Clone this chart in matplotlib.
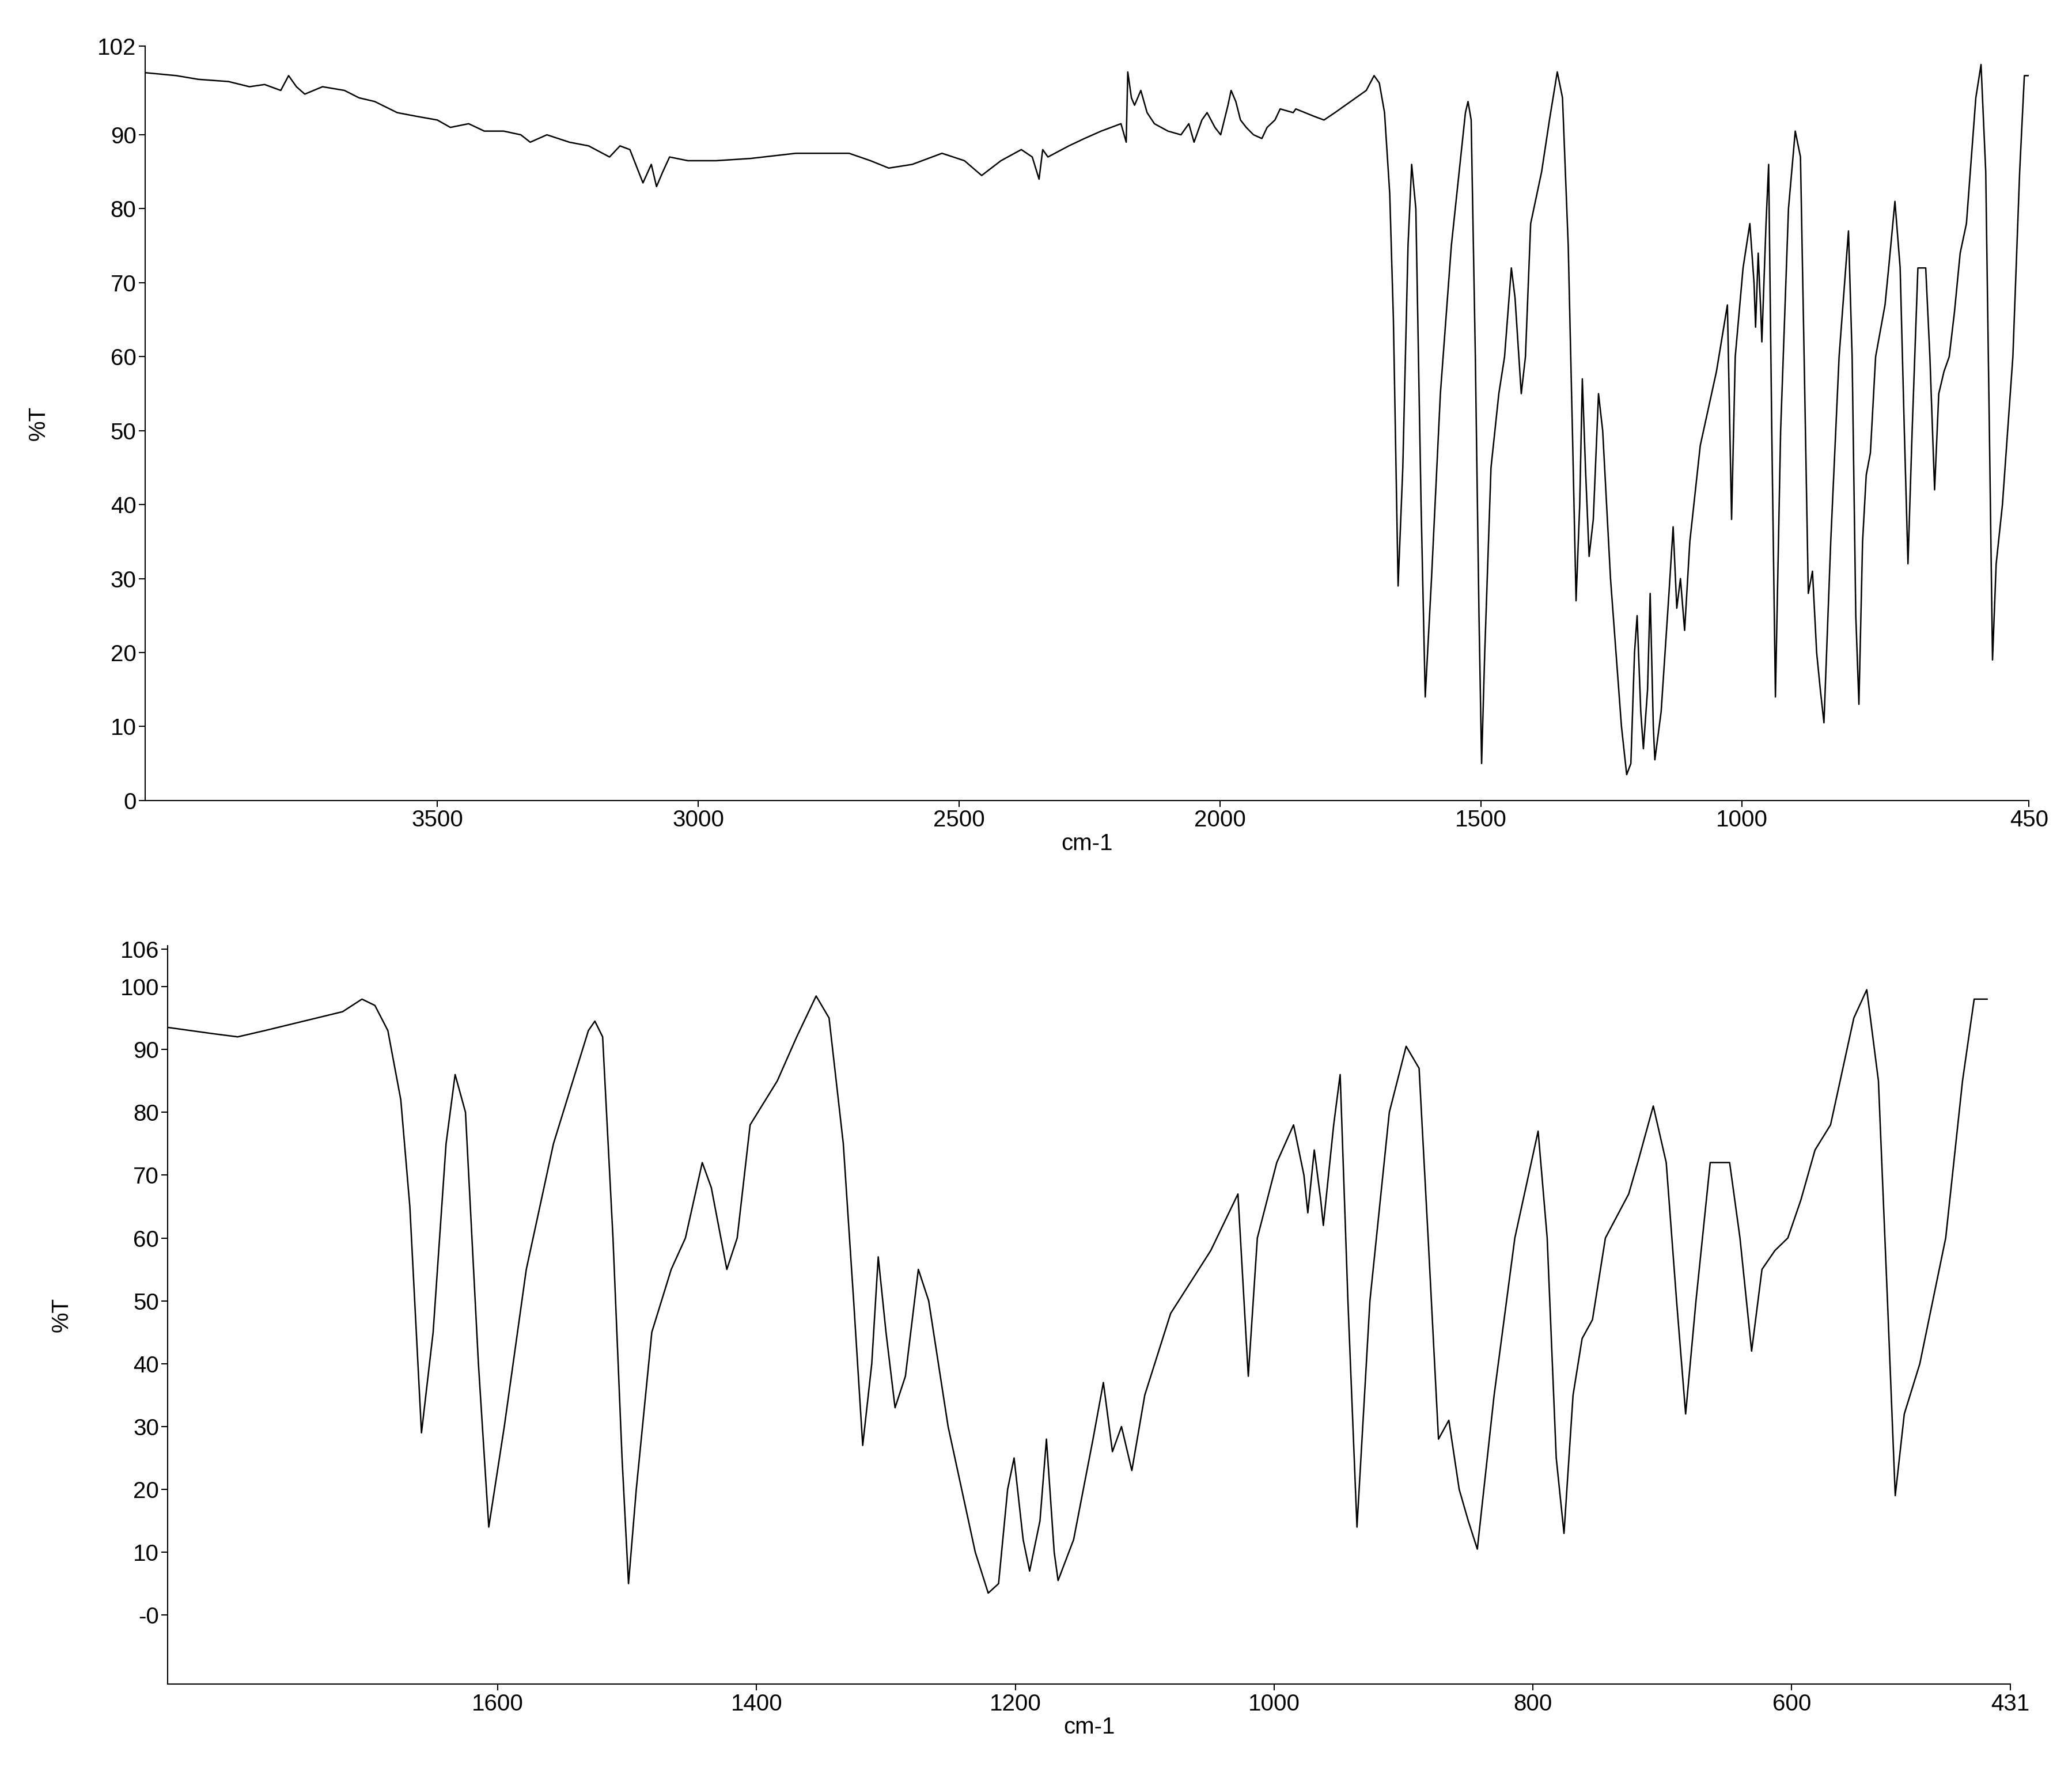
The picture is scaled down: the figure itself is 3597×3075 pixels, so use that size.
import matplotlib
matplotlib.use("Agg")
import matplotlib.pyplot as plt

plt.rcParams['font.family'] = ['Liberation Sans', 'DejaVu Sans']

# High-wavenumber region (cm-1, %T)
wn_high = [4060, 4000, 3958, 3900, 3860, 3831, 3800, 3785, 3770, 3754, 3720, 3678, 3650, 3620, 3577, 3540,
           3500, 3475, 3440, 3410, 3373, 3340, 3322, 3290, 3247, 3210, 3170, 3150, 3131, 3106, 3090, 3080,
           3068, 3055, 3020, 2966, 2900, 2813, 2760, 2711, 2670, 2635, 2590, 2533, 2490, 2457, 2420, 2381,
           2360, 2347, 2340, 2330, 2290, 2260, 2228, 2190, 2180, 2177, 2170, 2164, 2152, 2140, 2126, 2100,
           2075, 2060, 2050, 2035, 2025, 2010, 1999, 1985, 1979, 1970, 1961, 1950, 1936, 1920, 1910, 1895,
           1885, 1860]
t_high = [98.4, 98.0, 97.5, 97.2, 96.5, 96.8, 96.0, 98.0, 96.5, 95.5, 96.5, 96.0, 95.0, 94.5, 93.0, 92.5,
          92.0, 91.0, 91.5, 90.5, 90.5, 90.0, 89.0, 90.0, 89.0, 88.5, 87.0, 88.5, 88.0, 83.5, 86.0, 83.0,
          85.0, 87.0, 86.5, 86.5, 86.8, 87.5, 87.5, 87.5, 86.5, 85.5, 86.0, 87.5, 86.5, 84.5, 86.5, 88.0,
          87.0, 84.0, 88.0, 87.0, 88.5, 89.5, 90.5, 91.5, 89.0, 98.5, 95.0, 94.0, 96.0, 93.0, 91.5, 90.5,
          90.0, 91.5, 89.0, 92.0, 93.0, 91.0, 90.0, 94.0, 96.0, 94.5, 92.0, 91.0, 90.0, 89.5, 91.0, 92.0,
          93.5, 93.0]

# Fingerprint region (cm-1, %T)
wn_low = [1855, 1820, 1801, 1780, 1750, 1720, 1705, 1695, 1685, 1675, 1668, 1659, 1650, 1640, 1633, 1625,
          1615, 1607, 1595, 1578, 1557, 1542, 1530, 1525, 1519, 1511, 1504, 1499, 1493, 1481, 1466, 1455,
          1442, 1435, 1423, 1415, 1405, 1384, 1369, 1354, 1344, 1333, 1325, 1318, 1311, 1306, 1300, 1293,
          1285, 1275, 1267, 1252, 1231, 1221, 1213, 1206, 1201, 1194, 1189, 1181, 1176, 1170, 1167, 1155,
          1140, 1132, 1125, 1118, 1110, 1100, 1080, 1049, 1028, 1020, 1013, 998, 985, 977, 974, 969,
          964, 962, 954, 949, 943, 936, 926, 911, 898, 888, 881, 873, 865, 857, 850, 843,
          830, 814, 796, 789, 782, 776, 769, 762, 754, 744, 726, 719, 707, 697, 689, 682,
          674, 663, 648, 640, 631, 623, 613, 603, 593, 582, 570, 552, 542, 533, 526, 520,
          513, 501, 481, 468, 459, 449]
t_low = [93.5, 92.5, 92.0, 93.0, 94.5, 96.0, 98.0, 97.0, 93.0, 82.0, 65.0, 29.0, 45.0, 75.0, 86.0, 80.0,
         40.0, 14.0, 30.0, 55.0, 75.0, 85.0, 93.0, 94.5, 92.0, 60.0, 25.0, 5.0, 20.0, 45.0, 55.0, 60.0,
         72.0, 68.0, 55.0, 60.0, 78.0, 85.0, 92.0, 98.5, 95.0, 75.0, 50.0, 27.0, 40.0, 57.0, 45.0, 33.0,
         38.0, 55.0, 50.0, 30.0, 10.0, 3.5, 5.0, 20.0, 25.0, 12.0, 7.0, 15.0, 28.0, 10.0, 5.5, 12.0,
         28.0, 37.0, 26.0, 30.0, 23.0, 35.0, 48.0, 58.0, 67.0, 38.0, 60.0, 72.0, 78.0, 70.0, 64.0, 74.0,
         66.0, 62.0, 78.0, 86.0, 50.0, 14.0, 50.0, 80.0, 90.5, 87.0, 60.0, 28.0, 31.0, 20.0, 15.0, 10.5,
         35.0, 60.0, 77.0, 60.0, 25.0, 13.0, 35.0, 44.0, 47.0, 60.0, 67.0, 72.0, 81.0, 72.0, 50.0, 32.0,
         50.0, 72.0, 72.0, 60.0, 42.0, 55.0, 58.0, 60.0, 66.0, 74.0, 78.0, 95.0, 99.5, 85.0, 50.0, 19.0,
         32.0, 40.0, 60.0, 85.0, 98.0, 98.0]

top_xticks = [3500, 3000, 2500, 2000, 1500, 1000, 450]
top_yticks = [102, 90, 80, 70, 60, 50, 40, 30, 20, 10, 0]
bot_xticks = [1600, 1400, 1200, 1000, 800, 600, 431]
bot_yticks = [106, 100, 90, 80, 70, 60, 50, 40, 30, 20, 10, 0]
bot_ylabels = ['106', '100', '90', '80', '70', '60', '50', '40', '30', '20', '10', '-0']

fs = 29
fig = plt.figure(figsize=(35.98, 30.75), dpi=100)
ax1 = fig.add_axes([0.070, 0.548, 0.909, 0.426])
ax2 = fig.add_axes([0.081, 0.049, 0.889, 0.417])

wn_all = wn_high + wn_low
t_all = t_high + t_low
ax1.plot(wn_all, t_all, color='black', lw=1.8)
ax1.set_xlim(4060, 450)
ax1.set_ylim(0, 102)
ax1.set_xticks(top_xticks)
ax1.set_yticks(top_yticks)

ax2.plot(wn_low, t_low, color='black', lw=1.8)
ax2.set_xlim(1855, 431)
ax2.set_ylim(-11, 106.5)
ax2.set_xticks(bot_xticks)
ax2.set_yticks(bot_yticks)
ax2.set_yticklabels(bot_ylabels)

for ax in (ax1, ax2):
    ax.spines['top'].set_visible(False)
    ax.spines['right'].set_visible(False)
    ax.spines['left'].set_linewidth(1.5)
    ax.spines['bottom'].set_linewidth(1.5)
    ax.tick_params(labelsize=fs, length=8, width=1.5, pad=3)
    ax.set_xlabel('cm-1', fontsize=fs, labelpad=2)
    ax.set_ylabel('%T', fontsize=fs, labelpad=60)

fig.savefig('out.png', dpi=100, facecolor='white')
